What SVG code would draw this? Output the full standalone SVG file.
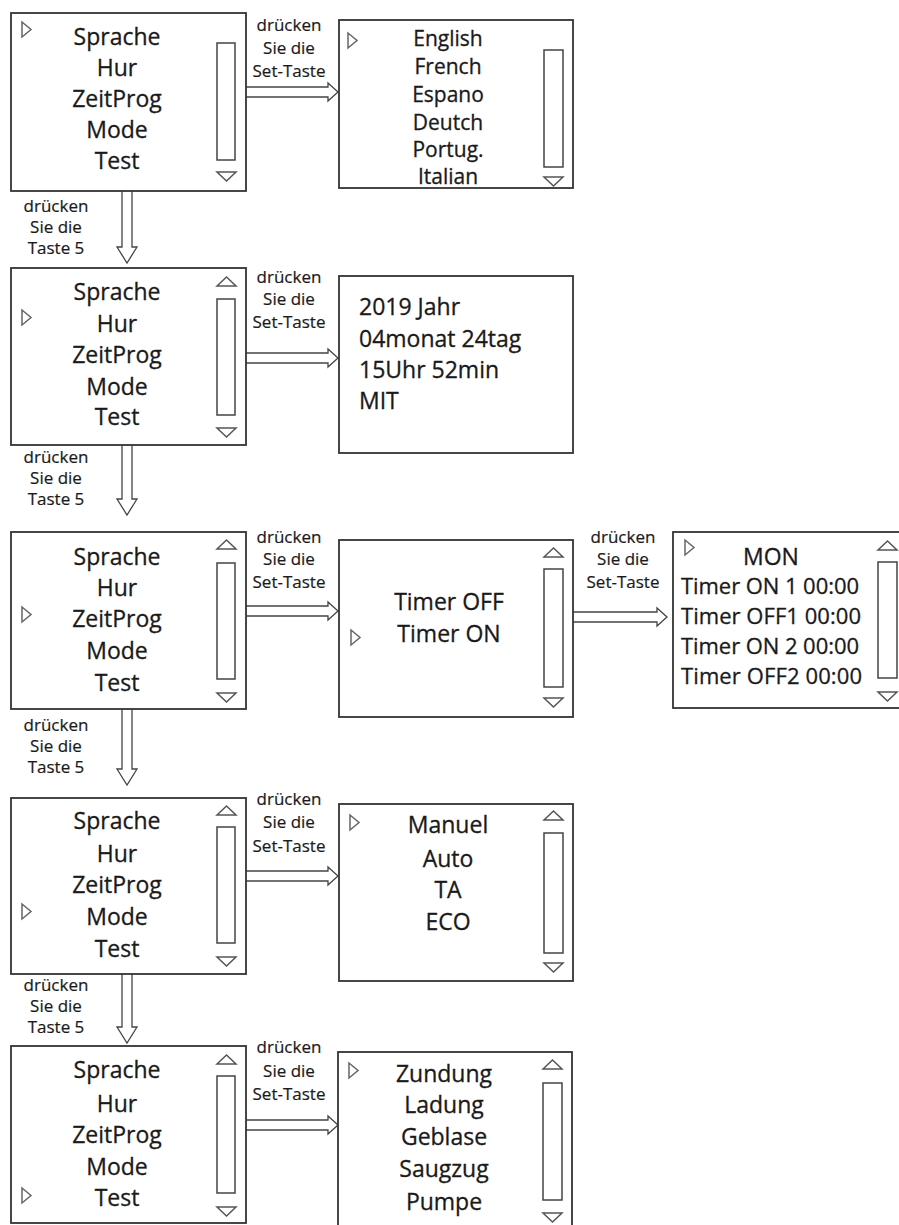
<svg xmlns="http://www.w3.org/2000/svg" xmlns:xlink="http://www.w3.org/1999/xlink" width="899" height="1225" viewBox="0 0 899 1225">
<style>
.box{fill:#fff;stroke:#333;stroke-width:1.8}
.sb{fill:none;stroke:#444;stroke-width:1.5}
.tri{fill:none;stroke:#555;stroke-width:1.5}
.ptr{fill:none;stroke:#666;stroke-width:1.5}
.arr{fill:none;stroke:#444;stroke-width:1.3;stroke-linejoin:miter}
.t,.tl,.tc,.ts,.lbl{font-family:'Open Sans','Noto Sans','Liberation Sans',sans-serif;fill:#1a1a1a;stroke:#1a1a1a;stroke-width:0.3}
.t{font-size:23px;text-anchor:middle}
.tl{font-size:23px;text-anchor:start}
.tc{font-size:22px;text-anchor:start}
.ts{font-size:21px;text-anchor:middle}
.lbl{font-size:17px;text-anchor:middle;stroke-width:0.2}
</style>
<defs>
<path id="up" class="tri" d="M0,9 L9.5,0 L19,9 Z"/>
<path id="dn" class="tri" d="M0,0 L19,0 L9.5,9 Z"/>
<path id="ptr" class="ptr" d="M0,0 L9,7.5 L0,15 Z"/>
</defs>
<rect width="899" height="1225" fill="#fff"/>

<g id="connectors">
<path class="arr" d="M246,87 H328 V83 L338,92 L328,101 V97 H246"/>
<path class="arr" d="M246,353 H328 V349 L338,358 L328,367 V363 H246"/>
<path class="arr" d="M246,606 H328 V602 L338,611 L328,620 V616 H246"/>
<path class="arr" d="M573,612 H657 V608 L667,617 L657,626 V622 H573"/>
<path class="arr" d="M246,871 H328 V867 L338,876 L328,885 V881 H246"/>
<path class="arr" d="M246,1120 H328 V1116 L338,1125 L328,1134 V1130 H246"/>
<path class="arr" d="M122,191 V247 H117 L127,263 L137,247 H132 V191"/>
<path class="arr" d="M122,445 V499 H117 L127,515 L137,499 H132 V445"/>
<path class="arr" d="M122,709 V769 H117 L127,785 L137,769 H132 V709"/>
<path class="arr" d="M122,974 V1027 H117 L127,1043 L137,1027 H132 V974"/>
<text class="lbl" x="289" y="31">drücken</text><text class="lbl" x="289" y="54">Sie die</text><text class="lbl" x="289" y="77">Set-Taste</text>
<text class="lbl" x="289" y="283">drücken</text><text class="lbl" x="289" y="305">Sie die</text><text class="lbl" x="289" y="328">Set-Taste</text>
<text class="lbl" x="289" y="543">drücken</text><text class="lbl" x="289" y="565">Sie die</text><text class="lbl" x="289" y="588">Set-Taste</text>
<text class="lbl" x="623" y="543">drücken</text><text class="lbl" x="623" y="565">Sie die</text><text class="lbl" x="623" y="588">Set-Taste</text>
<text class="lbl" x="289" y="805">drücken</text><text class="lbl" x="289" y="828">Sie die</text><text class="lbl" x="289" y="852">Set-Taste</text>
<text class="lbl" x="289" y="1053">drücken</text><text class="lbl" x="289" y="1077">Sie die</text><text class="lbl" x="289" y="1100">Set-Taste</text>
<text class="lbl" x="56" y="212">drücken</text><text class="lbl" x="56" y="233">Sie die</text><text class="lbl" x="56" y="254">Taste 5</text>
<text class="lbl" x="56" y="463">drücken</text><text class="lbl" x="56" y="484">Sie die</text><text class="lbl" x="56" y="505">Taste 5</text>
<text class="lbl" x="56" y="731">drücken</text><text class="lbl" x="56" y="752">Sie die</text><text class="lbl" x="56" y="773">Taste 5</text>
<text class="lbl" x="56" y="991">drücken</text><text class="lbl" x="56" y="1012">Sie die</text><text class="lbl" x="56" y="1033">Taste 5</text>
</g>

<g id="menu1">
<rect class="box" x="11" y="13" width="235" height="178"/>
<rect class="sb" x="217" y="43" width="18" height="117"/>
<use xlink:href="#dn" x="217" y="172"/>
<use xlink:href="#ptr" x="22" y="22"/>
<text class="t" x="117" y="45">Sprache</text><text class="t" x="117" y="76">Hur</text><text class="t" x="117" y="107">ZeitProg</text><text class="t" x="117" y="138">Mode</text><text class="t" x="117" y="169">Test</text>
</g>

<g id="language">
<rect class="box" x="339" y="20" width="234" height="168"/>
<rect class="sb" x="544" y="50" width="19" height="117"/>
<use xlink:href="#dn" x="544" y="177"/>
<use xlink:href="#ptr" x="348" y="33"/>
<text class="ts" x="448" y="46">English</text><text class="ts" x="448" y="74">French</text><text class="ts" x="448" y="102">Espano</text><text class="ts" x="448" y="130">Deutch</text><text class="ts" x="448" y="157">Portug.</text><text class="ts" x="448" y="184">Italian</text>
</g>

<g id="menu2">
<rect class="box" x="11" y="268" width="235" height="177"/>
<use xlink:href="#up" x="217" y="277"/>
<rect class="sb" x="217" y="299" width="18" height="116"/>
<use xlink:href="#dn" x="217" y="428"/>
<use xlink:href="#ptr" x="22" y="310"/>
<text class="t" x="117" y="300">Sprache</text><text class="t" x="117" y="332">Hur</text><text class="t" x="117" y="363">ZeitProg</text><text class="t" x="117" y="395">Mode</text><text class="t" x="117" y="425">Test</text>
</g>

<g id="clock">
<rect class="box" x="339" y="276" width="234" height="177"/>
<text class="tl" x="359" y="315">2019 Jahr</text><text class="tl" x="359" y="347">04monat 24tag</text><text class="tl" x="359" y="378">15Uhr 52min</text><text class="tl" x="359" y="409">MIT</text>
</g>

<g id="menu3">
<rect class="box" x="11" y="532" width="235" height="177"/>
<use xlink:href="#up" x="217" y="540"/>
<rect class="sb" x="217" y="563" width="18" height="116"/>
<use xlink:href="#dn" x="217" y="693"/>
<use xlink:href="#ptr" x="22" y="607"/>
<text class="t" x="117" y="565">Sprache</text><text class="t" x="117" y="596">Hur</text><text class="t" x="117" y="627">ZeitProg</text><text class="t" x="117" y="659">Mode</text><text class="t" x="117" y="691">Test</text>
</g>

<g id="timer">
<rect class="box" x="339" y="540" width="234" height="177"/>
<use xlink:href="#up" x="544" y="548"/>
<rect class="sb" x="544" y="569" width="19" height="118"/>
<use xlink:href="#dn" x="544" y="698"/>
<use xlink:href="#ptr" x="351" y="630"/>
<text class="t" x="449" y="610">Timer OFF</text><text class="t" x="449" y="642">Timer ON</text>
</g>

<g id="timer-day">
<rect class="box" x="673" y="532" width="240" height="176"/>
<use xlink:href="#up" x="878" y="541"/>
<rect class="sb" x="878" y="562" width="19" height="116"/>
<use xlink:href="#dn" x="878" y="692"/>
<use xlink:href="#ptr" x="685" y="540"/>
<text class="t" x="771" y="565">MON</text>
<text class="tc" x="681" y="594" textLength="178">Timer ON 1 00:00</text><text class="tc" x="681" y="624" textLength="180">Timer OFF1 00:00</text><text class="tc" x="681" y="654" textLength="178">Timer ON 2 00:00</text><text class="tc" x="681" y="684" textLength="181">Timer OFF2 00:00</text>
</g>

<g id="menu4">
<rect class="box" x="11" y="798" width="235" height="176"/>
<use xlink:href="#up" x="217" y="806"/>
<rect class="sb" x="217" y="827" width="18" height="116"/>
<use xlink:href="#dn" x="217" y="957"/>
<use xlink:href="#ptr" x="22" y="904"/>
<text class="t" x="117" y="829">Sprache</text><text class="t" x="117" y="862">Hur</text><text class="t" x="117" y="893">ZeitProg</text><text class="t" x="117" y="925">Mode</text><text class="t" x="117" y="957">Test</text>
</g>

<g id="mode">
<rect class="box" x="339" y="804" width="234" height="177"/>
<use xlink:href="#up" x="544" y="811"/>
<rect class="sb" x="544" y="833" width="19" height="120"/>
<use xlink:href="#dn" x="544" y="963"/>
<use xlink:href="#ptr" x="350" y="815"/>
<text class="t" x="448" y="833">Manuel</text><text class="t" x="448" y="867">Auto</text><text class="t" x="448" y="898">TA</text><text class="t" x="448" y="930">ECO</text>
</g>

<g id="menu5">
<rect class="box" x="11" y="1046" width="235" height="177"/>
<use xlink:href="#up" x="217" y="1055"/>
<rect class="sb" x="217" y="1076" width="18" height="117"/>
<use xlink:href="#dn" x="217" y="1207"/>
<use xlink:href="#ptr" x="22" y="1188"/>
<text class="t" x="117" y="1078">Sprache</text><text class="t" x="117" y="1112">Hur</text><text class="t" x="117" y="1143">ZeitProg</text><text class="t" x="117" y="1175">Mode</text><text class="t" x="117" y="1206">Test</text>
</g>

<g id="test">
<rect class="box" x="338" y="1052" width="234" height="180"/>
<use xlink:href="#up" x="543" y="1060"/>
<rect class="sb" x="543" y="1083" width="19" height="117"/>
<use xlink:href="#dn" x="543" y="1213"/>
<use xlink:href="#ptr" x="349" y="1063"/>
<text class="t" x="444" y="1082">Zundung</text><text class="t" x="444" y="1113">Ladung</text><text class="t" x="444" y="1145">Geblase</text><text class="t" x="444" y="1177">Saugzug</text><text class="t" x="444" y="1210">Pumpe</text>
</g>
</svg>
